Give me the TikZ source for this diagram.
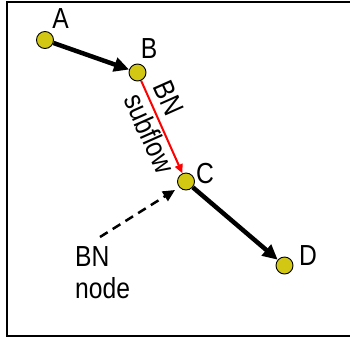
\documentclass[tikz,border=0pt]{standalone}
\usepackage{fontspec}
\setmainfont{Liberation Sans}
\usetikzlibrary{arrows.meta}
\definecolor{dotfill}{RGB}{210,200,20}
\definecolor{flowred}{RGB}{255,0,0}
\newcommand{\narrowtext}[1]{\scalebox{0.85}[1]{#1}}
\begin{document}
\begin{tikzpicture}[x=1pt,y=-1pt,
  dot/.style={circle,draw=black,line width=0.9pt,fill=dotfill,minimum size=17pt,inner sep=0pt},
  lbl/.style={inner sep=0pt,font=\fontsize{29}{32}\selectfont},
  heavy/.style={line width=4.5pt,-{Triangle[length=15pt,width=14pt]}},
  subflow/.style={flowred,line width=2pt,-{Triangle[length=9pt,width=8pt]}},
  pointer/.style={line width=2.5pt,dash pattern=on 9pt off 6pt,-{Triangle[length=12pt,width=11pt]}}]
\useasboundingbox (0,0) rectangle (350,338);
\draw[line width=2pt] (352,2) -- (7,2) -- (7,336) -- (352,336);
\node[dot] (A) at (45,40) {};
\node[dot] (B) at (137.5,72.5) {};
\node[dot] (C) at (186,181.5) {};
\node[dot] (D) at (284.5,265.5) {};
\node[lbl,anchor=base] (la) at (60.5,28) {\narrowtext{A}};
\node[lbl,anchor=base] (lb) at (149,58) {\narrowtext{B}};
\node[lbl,anchor=base] (lc) at (205,183) {\narrowtext{C}};
\node[lbl,anchor=base] (ld) at (308,265) {\narrowtext{D}};
\node[lbl,anchor=base west,align=left] (bnnode) at (75,298) {\narrowtext{BN}\\\narrowtext{node}};
\node[lbl,align=left,rotate=-66] (sublbl) at (164,127) {\narrowtext{BN}\\\narrowtext{subflow}};
\draw[heavy] (A) -- (B);
\draw[heavy] (C) -- (D);
\draw[subflow] (B) -- (C);
\coordinate (dstart) at (100,237);
\coordinate (dtip) at (175,190);
\draw[pointer] (dstart) -- (dtip);
\end{tikzpicture}
\end{document}
